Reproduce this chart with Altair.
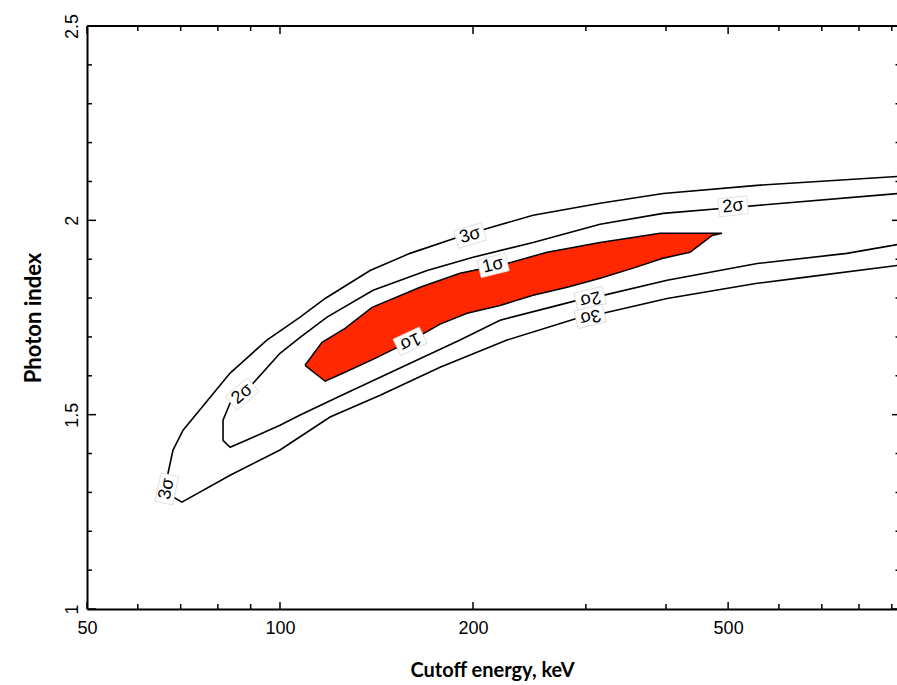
import altair as alt
import pandas as pd

# Confidence contours: cutoff energy (keV) vs photon index
sig3_e = [920, 555, 395.9, 315.7, 248.2, 210.4, 188.9, 159.5, 138.2, 117.6, 107.5, 95.4,
          83.6, 70.6, 68.1, 66.9, 66.6, 67.4, 70.3, 83.6, 100, 119.7, 143.3, 177.7, 226.0,
          290.7, 319.2, 401.6, 555, 647.5, 920]
sig3_g = [2.113, 2.090, 2.069, 2.044, 2.013, 1.979, 1.956, 1.915, 1.871, 1.799, 1.751, 1.692,
          1.607, 1.460, 1.409, 1.350, 1.314, 1.293, 1.275, 1.344, 1.409, 1.494, 1.550, 1.622,
          1.692, 1.748, 1.761, 1.799, 1.838, 1.852, 1.884]

sig2_e = [920, 509, 395.9, 315.7, 248.2, 200.1, 169.6, 139.7, 118.4, 107.5, 100, 90.8, 87.6,
          83.6, 81.5, 81.5, 83.6, 90.8, 100, 107.5, 124.1, 153.9, 190.9, 220.4, 290.7, 319.2,
          401.6, 555, 766, 920]
sig2_g = [2.069, 2.033, 2.018, 1.990, 1.943, 1.905, 1.871, 1.820, 1.751, 1.699, 1.658, 1.581,
          1.555, 1.530, 1.486, 1.434, 1.416, 1.442, 1.473, 1.499, 1.548, 1.620, 1.692, 1.743,
          1.794, 1.807, 1.846, 1.889, 1.915, 1.938]

sig1_e = [109.4, 116.3, 126.3, 139.2, 165.4, 190.9, 226.0, 261.0, 315.7, 391.6, 489.3, 472.1,
          436.2, 394.5, 355.5, 315.7, 280.5, 248.2, 220.4, 195.8, 177.7, 160.7, 140.7, 126.3,
          117.6, 109.4]
sig1_g = [1.627, 1.686, 1.722, 1.776, 1.828, 1.864, 1.889, 1.918, 1.943, 1.967, 1.967, 1.961,
          1.918, 1.902, 1.877, 1.851, 1.828, 1.807, 1.781, 1.761, 1.733, 1.692, 1.645, 1.609,
          1.586, 1.627]

# Contour labels: text, position and rotation (degrees, clockwise)
lab_text = ["3σ", "2σ", "1σ", "1σ", "2σ", "3σ", "2σ", "3σ"]
lab_e = [197.9, 509, 215, 159.5, 304.6, 304.6, 87.3, 66.6]
lab_g = [1.961, 2.036, 1.884, 1.689, 1.799, 1.753, 1.553, 1.309]
lab_angle = [343, 354, 346, 155, 166, 166, 320, 282]

# Axis ticks
x_major = [50, 100, 200, 500]
x_minor = [60, 70, 80, 90, 300, 400, 600, 700, 800, 900]
y_major = [1, 1.5, 2, 2.5]
y_minor = [1.1, 1.2, 1.3, 1.4, 1.6, 1.7, 1.8, 1.9, 2.1, 2.2, 2.3, 2.4]

W, H = 810, 583
RED = "#ff2800"

xs = alt.Scale(type="log", domain=[50, 917], nice=False)
ys = alt.Scale(domain=[1, 2.5], nice=False, zero=False)

x_axis = alt.Axis(
    values=x_major, format="d", tickSize=0, grid=False,
    domainColor="black", domainWidth=2,
    labelFont="Liberation Sans", labelFontSize=18, labelColor="black",
    labelPadding=10, labelFlush=False, labelOverlap=False,
    title="Cutoff energy, keV", titleFont="Lato", titleFontSize=20,
    titleFontWeight="bold", titleColor="black", titleY=67,
    titleBaseline="alphabetic",
)
y_axis = alt.Axis(
    values=y_major, labelExpr="'' + datum.value", tickSize=0, grid=False,
    domainColor="black", domainWidth=2,
    labelFont="Liberation Sans", labelFontSize=18, labelColor="black",
    labelAngle=270, labelAlign="center", labelBaseline="alphabetic",
    labelPadding=10, labelFlush=False, labelOverlap=False,
    title="Photon index", titleFont="Lato", titleFontSize=22,
    titleFontWeight="bold", titleColor="black", titleAngle=270,
    titleAlign="center", titleBaseline="alphabetic", titleX=-47, titleY=H / 2,
)

X_E = alt.X("e:Q", scale=xs, axis=x_axis)
Y_G = alt.Y("g:Q", scale=ys, axis=y_axis)


def path_frame(es, gs):
    return pd.DataFrame({"e": es, "g": gs, "i": range(len(es))})


sig1 = alt.Chart(path_frame(sig1_e, sig1_g)).mark_line(
    fill=RED, stroke="black", strokeWidth=1.5, clip=True
).encode(x=X_E, y=Y_G, order="i:Q")


def contour(es, gs):
    return alt.Chart(path_frame(es, gs)).mark_line(
        color="black", strokeWidth=1.6, clip=True
    ).encode(x=X_E, y=Y_G, order="i:Q")


labels = pd.DataFrame({"t": lab_text, "e": lab_e, "g": lab_g, "a": lab_angle})
label_box = alt.Chart(labels).mark_point(
    shape="M-1,-0.62H1V0.62H-1Z", size=841, filled=True, fill="white",
    stroke="#d4d4d4", strokeWidth=0.7, opacity=1,
).encode(x=X_E, y=Y_G, angle=alt.Angle("a:Q", scale=None))
label_text = alt.Chart(labels).mark_text(
    font="Liberation Sans", fontSize=18, color="black", align="center", baseline="middle"
).encode(x=X_E, y=Y_G, angle=alt.Angle("a:Q", scale=None), text="t:N")


def ticks(vals, side, length):
    df = pd.DataFrame({"e": vals, "g": vals})
    if side == "bottom":
        enc = dict(x=X_E, y=alt.value(H), y2=alt.value(H - length))
    elif side == "top":
        enc = dict(x=X_E, y=alt.value(0), y2=alt.value(length))
    elif side == "left":
        enc = dict(y=Y_G, x=alt.value(0), x2=alt.value(length))
    else:
        enc = dict(y=Y_G, x=alt.value(W), x2=alt.value(W - length))
    return alt.Chart(df).mark_rule(color="black", strokeWidth=1.5).encode(**enc)


top_line = alt.Chart(pd.DataFrame({"v": [0]})).mark_rule(color="black", strokeWidth=2).encode(
    x=alt.value(0), x2=alt.value(W), y=alt.value(0)
)

chart = alt.layer(
    sig1,
    contour(sig2_e, sig2_g),
    contour(sig3_e, sig3_g),
    label_box,
    label_text,
    ticks(x_major, "bottom", 7),
    ticks(x_minor, "bottom", 5),
    ticks(x_major, "top", 8),
    ticks(x_minor, "top", 5),
    ticks(y_major, "left", 9),
    ticks(y_minor, "left", 5),
    ticks(y_major, "right", 5),
    ticks(y_minor, "right", 1.5),
    top_line,
).properties(
    width=W, height=H,
    padding={"left": 87, "top": 26, "right": 0, "bottom": 76},
    autosize=alt.AutoSizeParams(type="none"),
    background="white",
).configure_view(stroke=None)

chart.save("out.html", embed_options={"renderer": "svg", "actions": False})
